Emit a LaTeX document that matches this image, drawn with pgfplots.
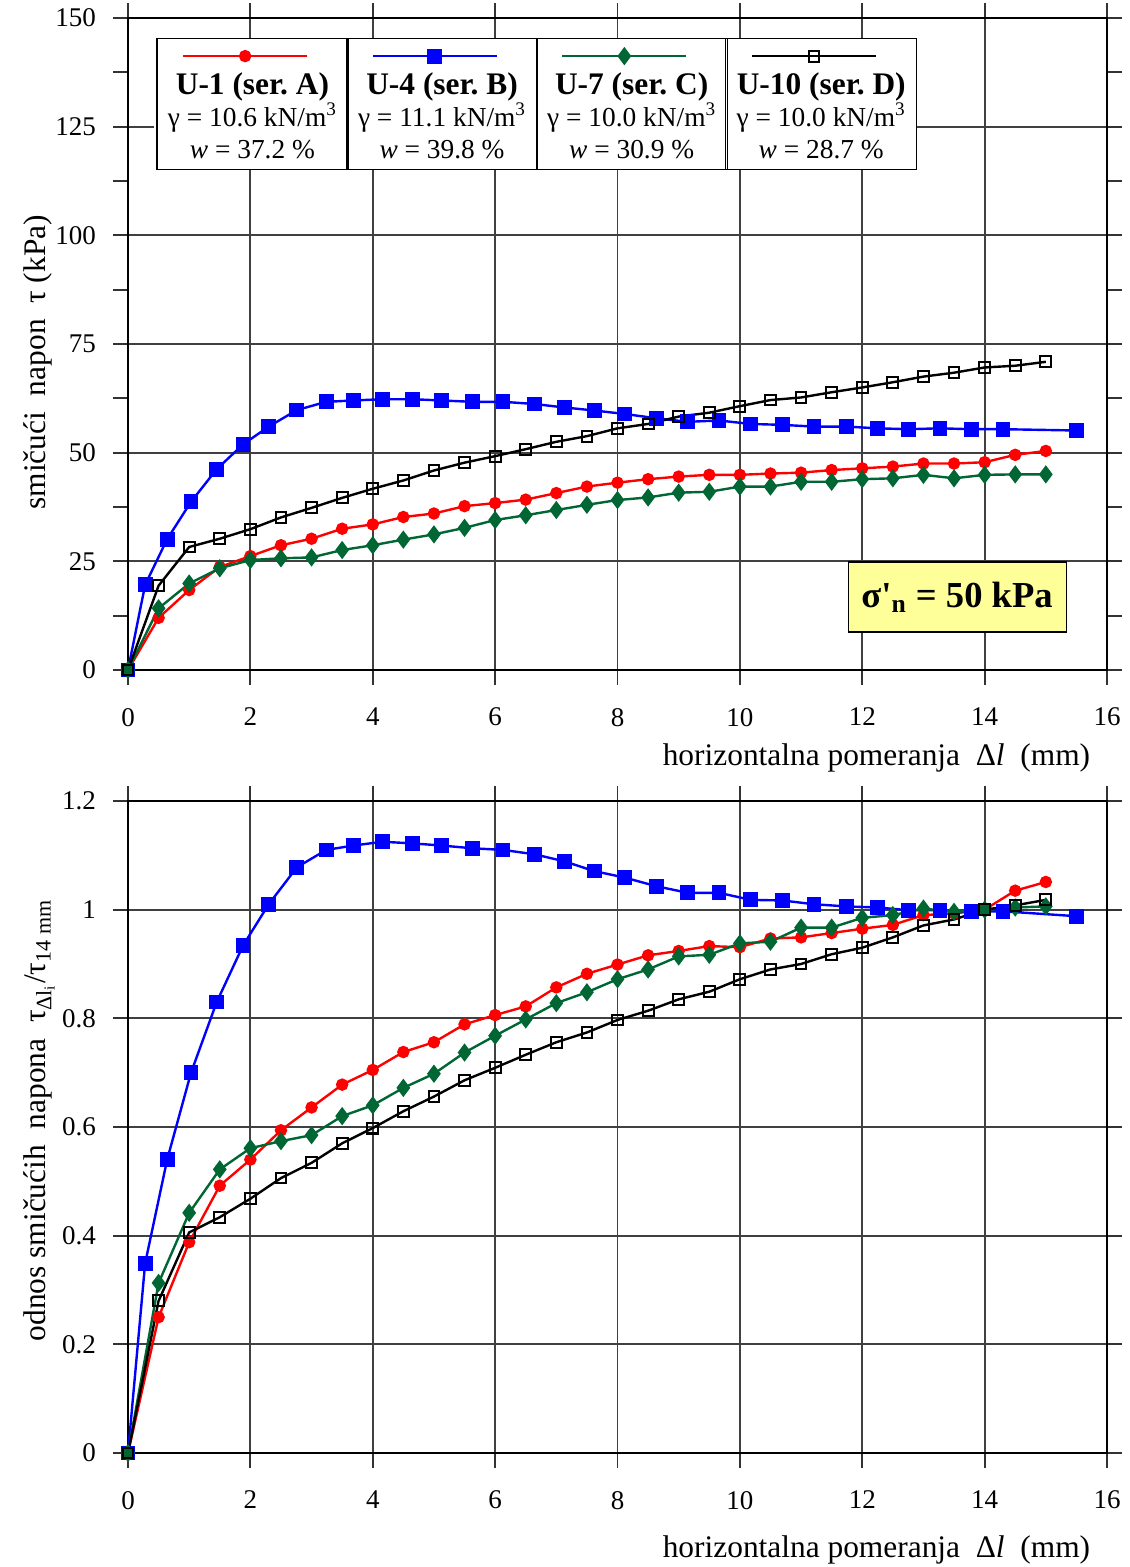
\documentclass[border=0pt]{standalone}
\usepackage{pgfplots}
\pgfplotsset{compat=1.18}
\usepackage{fontspec}
\setmainfont{Liberation Serif}
\definecolor{cgreen}{RGB}{0,102,51}
\definecolor{cyellow}{RGB}{255,255,153}

\pgfplotstableread{
x y
0 0
0.5 12.0
1 18.4
1.5 23.7
2 26.2
2.5 28.7
3 30.2
3.5 32.5
4 33.5
4.5 35.2
5 36.0
5.5 37.7
6 38.4
6.5 39.2
7 40.7
7.5 42.2
8 43.1
8.5 43.9
9 44.5
9.5 44.9
10 44.9
10.5 45.2
11 45.4
11.5 46.0
12 46.4
12.5 46.8
13 47.5
13.5 47.5
14 47.8
14.5 49.5
15 50.4
}\redtop
\pgfplotstableread{
x y
0 0
0.28 19.6
0.64 30.1
1.03 38.7
1.45 46.2
1.88 51.9
2.3 56.0
2.76 59.8
3.24 61.7
3.68 62.0
4.16 62.3
4.65 62.3
5.13 62.0
5.63 61.7
6.13 61.7
6.64 61.2
7.13 60.4
7.62 59.7
8.12 58.9
8.64 57.9
9.15 57.1
9.66 57.4
10.18 56.6
10.69 56.4
11.21 56.0
11.74 56.0
12.25 55.6
12.76 55.4
13.27 55.6
13.78 55.4
14.3 55.4
15.5 55.1
}\bluetop
\pgfplotstableread{
x y
0 0
0.5 14.2
1 19.9
1.5 23.4
2 25.3
2.5 25.7
3 25.9
3.5 27.6
4 28.7
4.5 30.0
5 31.2
5.5 32.7
6 34.5
6.5 35.6
7 36.8
7.5 38.0
8 39.1
8.5 39.7
9 40.8
9.5 41.0
10 42.2
10.5 42.2
11 43.3
11.5 43.3
12 43.9
12.5 44.1
13 44.9
13.5 44.1
14 44.9
14.5 45.0
15 45.0
}\greentop
\pgfplotstableread{
x y
0 0
0.5 19.4
1 28.3
1.5 30.2
2 32.4
2.5 35.1
3 37.3
3.5 39.6
4 41.7
4.5 43.6
5 45.9
5.5 47.7
6 49.2
6.5 50.8
7 52.5
7.5 53.8
8 55.6
8.5 56.6
9 58.3
9.5 59.2
10 60.7
10.5 62.1
11 62.7
11.5 63.9
12 65.0
12.5 66.2
13 67.5
13.5 68.4
14 69.6
14.5 70.0
15 70.9
}\blacktop

\pgfplotstableread{
x y
0 0
0.5 0.250
1 0.388
1.5 0.492
2 0.540
2.5 0.594
3 0.636
3.5 0.678
4 0.705
4.5 0.738
5 0.756
5.5 0.789
6 0.806
6.5 0.822
7 0.857
7.5 0.882
8 0.899
8.5 0.916
9 0.924
9.5 0.933
10 0.931
10.5 0.947
11 0.949
11.5 0.957
12 0.965
12.5 0.972
13 0.990
13.5 0.993
14 1.0
14.5 1.035
15 1.051
}\redbot
\pgfplotstableread{
x y
0 0
0.28 0.349
0.64 0.540
1.03 0.700
1.45 0.830
1.88 0.934
2.3 1.010
2.76 1.078
3.24 1.110
3.68 1.118
4.16 1.125
4.65 1.122
5.13 1.118
5.63 1.113
6.13 1.110
6.64 1.102
7.13 1.089
7.62 1.071
8.12 1.059
8.64 1.043
9.15 1.031
9.66 1.031
10.18 1.018
10.69 1.017
11.21 1.010
11.74 1.006
12.25 1.004
12.76 0.999
13.27 0.999
13.78 0.996
14.3 0.997
15.5 0.988
}\bluebot
\pgfplotstableread{
x y
0 0
0.5 0.313
1 0.442
1.5 0.522
2 0.561
2.5 0.574
3 0.585
3.5 0.620
4 0.640
4.5 0.672
5 0.698
5.5 0.737
6 0.768
6.5 0.798
7 0.828
7.5 0.848
8 0.872
8.5 0.890
9 0.914
9.5 0.917
10 0.938
10.5 0.941
11 0.967
11.5 0.967
12 0.985
12.5 0.990
13 1.002
13.5 0.996
14 1.0
14.5 1.004
15 1.006
}\greenbot
\pgfplotstableread{
x y
0 0
0.5 0.280
1 0.406
1.5 0.434
2 0.468
2.5 0.506
3 0.534
3.5 0.570
4 0.598
4.5 0.629
5 0.656
5.5 0.686
6 0.709
6.5 0.733
7 0.756
7.5 0.774
8 0.797
8.5 0.814
9 0.835
9.5 0.849
10 0.872
10.5 0.890
11 0.900
11.5 0.918
12 0.930
12.5 0.949
13 0.971
13.5 0.982
14 1.0
14.5 1.008
15 1.018
}\blackbot

\pgfplotsset{
  base/.style={
    scale only axis, width=489.5pt, height=326pt,
    xmin=0, xmax=16, xtick={0,2,...,16},
    grid=major, major grid style={black!75, line width=0.9pt},
    axis line style={black, line width=0.9pt},
    tick align=outside, major tick length=7.5pt, minor tick length=7.5pt,
    tick style={black!80, line width=0.9pt},
    /pgf/number format/assume math mode=true,
    tick label style={font=\fontsize{13.5}{15}\selectfont},
    xticklabel style={yshift=-8pt},
    yticklabel style={xshift=-5pt},
    label style={font=\fontsize{15.7}{18}\selectfont},
    clip=false,
  },
  sred/.style={red, line width=1.2pt, mark=*, mark size=2.5pt, mark options={solid, fill=red}},
  sblue/.style={blue, line width=1.2pt, mark=square*, mark size=3.1pt, mark options={solid, fill=blue}},
  sgreen/.style={cgreen, line width=1.2pt, mark=diamond*, mark size=3.6pt, mark options={solid, fill=cgreen}},
  sblack/.style={black, line width=1.2pt, mark=square, mark size=2.7pt, mark options={solid, line width=1pt}},
}

\newcommand{\legcell}[3]{\parbox[b][64pt][t]{95.5pt}{\centering\fontsize{13.7}{16}\selectfont\rule{0pt}{27.7pt}{\fontsize{15.7}{16}\selectfont\bfseries #1}\\ #2\\ #3}}

\begin{document}
\begin{tikzpicture}
\begin{axis}[base,
  at={(64pt,-9pt)}, anchor=north west,
  ymin=0, ymax=150, ytick={0,25,...,150}, minor ytick={12.5,37.5,...,137.5},
  ylabel={smičući\ \ napon\ \ τ (kPa)},
  ylabel style={at={(rel axis cs:-0.0838,0.472)}, anchor=base, rotate=0},
  xlabel={horizontalna pomeranja\ \ Δ\textit{l}\ \ (mm)},
  xlabel style={at={(rel axis cs:0.99,-0.147)}, anchor=base east},
  legend cell align=left,
  legend columns=4,
  legend style={at={(rel axis cs:0.0265,0.9693)}, anchor=north west, draw=none, fill=white, inner sep=0pt, outer sep=0pt,
    /tikz/column sep=0pt, /tikz/row sep=0pt,
    /tikz/every even column/.append style={column sep=-2.5pt},
    nodes={draw=black, line width=0.6pt, fill=none, inner sep=0pt, outer sep=0pt}},
  legend image code/.code={%
    \begin{pgfinterruptboundingbox}
    \draw[mark repeat=2, mark phase=2, #1, line width=1.2pt] plot coordinates {(14pt,24pt) (45pt,24pt) (76pt,24pt)};
    \end{pgfinterruptboundingbox}
    \path (0pt,0pt);
  },
]
\addplot[sred] table {\redtop};
\addlegendentry{\legcell{U-1 (ser.\ A)}{γ = 10.6 kN/m\textsuperscript{3}}{\textit{w} = 37.2 \%}}
\addplot[sblue] table {\bluetop};
\addlegendentry{\legcell{U-4 (ser.\ B)}{γ = 11.1 kN/m\textsuperscript{3}}{\textit{w} = 39.8 \%}}
\addplot[sgreen] table {\greentop};
\addlegendentry{\legcell{U-7 (ser.\ C)}{γ = 10.0 kN/m\textsuperscript{3}}{\textit{w} = 30.9 \%}}
\addplot[sblack] table {\blacktop};
\addlegendentry{\legcell{U-10 (ser.\ D)}{γ = 10.0 kN/m\textsuperscript{3}}{\textit{w} = 28.7 \%}}
\node[draw=black, line width=0.6pt, fill=cyellow, minimum width=109pt, minimum height=35pt, inner sep=0pt,
  font=\fontsize{18.3}{20}\selectfont\bfseries] at (axis cs:13.55,16.8) {σ\textquotesingle\textsubscript{n} = 50 kPa};
\end{axis}

\begin{axis}[base,
  at={(64pt,-400.5pt)}, anchor=north west,
  ymin=0, ymax=1.2, ytick={0,0.2,...,1.2},
  yticklabels={0,0.2,0.4,0.6,0.8,1,1.2},
  ylabel={odnos smičućih\ \ napona\ \ τ\textsubscript{Δl\textsubscript{i}}/τ\textsubscript{14 mm}},
  ylabel style={at={(rel axis cs:-0.0838,0.51)}, anchor=base},
  xlabel={horizontalna pomeranja\ \ Δ\textit{l}\ \ (mm)},
  xlabel style={at={(rel axis cs:0.99,-0.161)}, anchor=base east},
]
\addplot[sred] table {\redbot};
\addplot[sblue] table {\bluebot};
\addplot[sgreen] table {\greenbot};
\addplot[sblack] table {\blackbot};
\end{axis}
\pgfresetboundingbox
\useasboundingbox (0pt,0pt) rectangle (564.5pt,-783.5pt);
\end{tikzpicture}
\end{document}
